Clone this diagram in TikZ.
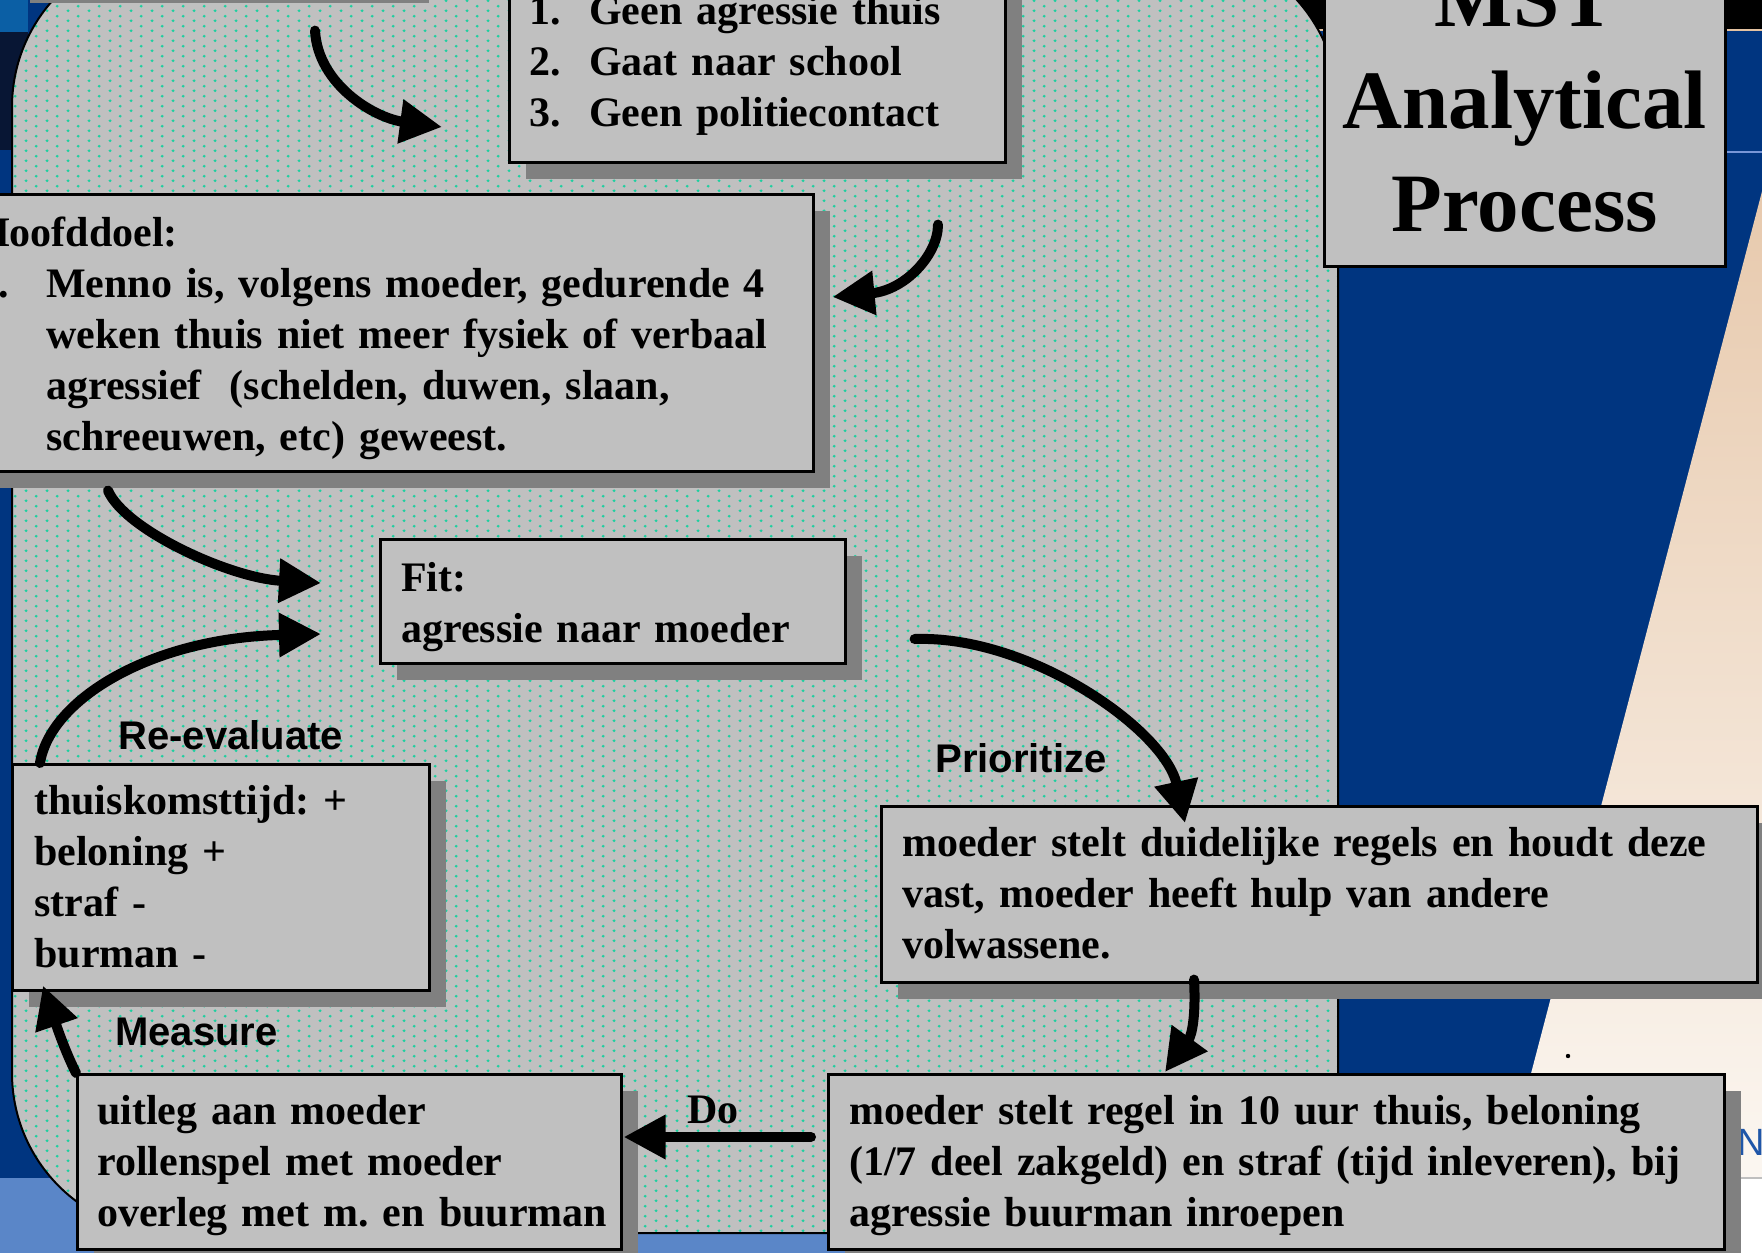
\documentclass[tikz,border=0pt]{standalone}
\usepackage{fontspec}
\setmainfont{Liberation Serif}
\newfontfamily\mstarial{Liberation Sans}
\usetikzlibrary{arrows.meta,shadows,patterns}
\frenchspacing

\definecolor{boxgray}{HTML}{C0C0C0}
\definecolor{shadowgray}{HTML}{808080}
\definecolor{slideblue}{HTML}{003580}
\definecolor{lightband}{HTML}{5A86C8}
\definecolor{dotteal}{HTML}{1ECFA0}
\definecolor{peachtop}{HTML}{E4C2A2}
\definecolor{peachmid}{HTML}{ECD2B8}
\definecolor{peachbot}{HTML}{FDFAF6}
\definecolor{letterblue}{HTML}{1F56A8}
\definecolor{photoblue}{HTML}{0B5FA5}
\definecolor{photodark}{HTML}{081634}
\definecolor{thinblue}{HTML}{7896D7}

\pgfdeclarepatternformonly{mstdots}{\pgfqpoint{0pt}{0pt}}{\pgfqpoint{10.3pt}{5pt}}{\pgfqpoint{10.3pt}{5pt}}{%
  \pgfpathcircle{\pgfqpoint{2.575pt}{1.25pt}}{0.8pt}%
  \pgfpathcircle{\pgfqpoint{7.725pt}{3.75pt}}{0.8pt}%
  \pgfusepath{fill}}

\newcommand\mstboxfont{\fontsize{21pt}{25.5pt}\selectfont\bfseries}
\newcommand\mstlabfont{\mstarial\fontsize{20pt}{24pt}\selectfont\bfseries}
\newcommand\msttitlefont{\fontsize{41.5pt}{51.25pt}\selectfont\bfseries}

\tikzset{
  mstbox/.style={draw=black, line width=1.3pt, fill=boxgray, anchor=north west,
    inner ysep=0pt, align=left, font=\mstboxfont,
    drop shadow={shadow xshift=8.5pt, shadow yshift=-8.5pt, fill=shadowgray, opacity=1}},
  steplabel/.style={anchor=base west, inner sep=0pt, font=\mstlabfont},
  flow/.style={line width=5pt, line cap=round, -{Triangle[length=21pt,width=21pt]}},
}

\begin{document}
\begin{tikzpicture}[x=0.5pt, y=-0.5pt]
\useasboundingbox (0,0) rectangle (1762,1253);
\clip (0,0) rectangle (1762,1253);

% slide background
\fill[slideblue] (0,0) rectangle (1762,1253);
\fill[photoblue] (0,0) rectangle (28,32);
\fill[photodark] (0,32) rectangle (28,150);
\fill[black] (1250,0) rectangle (1762,29);
\draw[peachtop, line width=1pt] (1250,30) -- (1762,30);
\draw[thinblue, line width=0.8pt] (1338,152) -- (1762,152);
\shade[top color=peachtop, middle color=peachmid, bottom color=peachbot]
  (1804,31) -- (1484,1253) -- (1762,1253) -- (1762,31) -- cycle;
\fill[white] (1340,1178) rectangle (1762,1253);
\draw[black!25, line width=1pt] (1340,1178) -- (1762,1178);
\fill[lightband] (0,1178) rectangle (1340,1253);
\fill[black] (1568,1056) circle[radius=1.1pt];
\node[font=\mstarial\fontsize{19pt}{22pt}\selectfont, text=letterblue, anchor=base west, inner sep=0pt] (bgletter) at (1737,1155) {N};

% dotted panel
\path[fill=boxgray, rounded corners=80pt] (12,-53) rectangle (1338,1233);
\path[pattern=mstdots, pattern color=dotteal, rounded corners=80pt] (12,-53) rectangle (1338,1233);
\draw[black, line width=1pt, rounded corners=80pt] (12,-53) rectangle (1338,1233);

% boxes
\node[mstbox, minimum width=199.5pt, minimum height=92.5pt] (prevbox) at (12,-200) {};

\node[mstbox, inner xsep=10pt, text width=228pt, text height=31.5pt, text depth=69pt] (goals) at (508,-40)
 {\makebox[30pt][l]{1.}Geen agressie thuis\\
  \makebox[30pt][l]{2.}Gaat naar school\\
  \makebox[30pt][l]{3.}Geen politiecontact};

\node[mstbox, inner xsep=10.5pt, text width=407.5pt, text height=26pt, text depth=112.5pt] (hoofddoel) at (-45,193)
 {Hoofddoel:\\
  \makebox[34.5pt][l]{1.}Menno is, volgens moeder, gedurende 4\\
  \hspace*{34.5pt}weken thuis niet meer fysiek of verbaal\\
  \hspace*{34.5pt}agressief\ \ (schelden, duwen, slaan,\\
  \hspace*{34.5pt}schreeuwen, etc) geweest.};

\node[mstbox, inner xsep=10.5pt, text width=211.5pt, text height=26pt, text depth=36pt] (fit) at (379,538)
 {Fit:\\ agressie naar moeder};

\node[mstbox, inner xsep=11pt, text width=186.5pt, text height=25pt, text depth=88pt] (reeval) at (11,763)
 {thuiskomsttijd: +\\ beloning +\\ straf -\\ burman -};

\node[mstbox, inner xsep=10.5pt, text width=417pt, text height=25pt, text depth=63pt] (duidelijk) at (880,805)
 {\mbox{moeder stelt duidelijke regels en houdt deze}\\ vast, moeder heeft hulp van andere\\ volwassene.};

\node[mstbox, inner xsep=10pt, text width=252pt, text height=25pt, text depth=62.5pt] (uitleg) at (76,1073)
 {uitleg aan moeder\\ rollenspel met moeder\\ \mbox{overleg met m. en buurman}};

\node[mstbox, inner xsep=10.5pt, text width=427pt, text height=25pt, text depth=62.5pt] (regel) at (827,1073)
 {\mbox{moeder stelt regel in 10 uur thuis, beloning}\\ \mbox{(1/7 deel zakgeld) en straf (tijd inleveren), bij}\\ agressie buurman inroepen};

\node[draw=black, line width=1.3pt, fill=boxgray, anchor=north west, inner sep=0pt, align=center,
      text width=200.5pt, text height=32.5pt, text depth=120pt, font=\msttitlefont] (mst) at (1323,-40)
 {MST\\ Analytical\\ Process};

% step labels
\node[steplabel] (lreeval) at (118,749) {Re-evaluate};
\node[steplabel] (lprior) at (935,772) {Prioritize};
\node[steplabel] (lmeasure) at (115,1045) {Measure};
\node[steplabel, font=\mstboxfont] (ldo) at (687,1123) {Do};

% connector end points
\coordinate (a0) at ([shift={(151.5pt,-21.5pt)}]prevbox.south west);
\coordinate (a1) at ([shift={(-33pt,-83.5pt)}]goals.north west);
\coordinate (b0) at ([shift={(215pt,-30.5pt)}]goals.south west);
\coordinate (b1) at ([shift={(9pt,-52pt)}]hoofddoel.north east);
\coordinate (c0) at ([shift={(76.5pt,-9pt)}]hoofddoel.south west);
\coordinate (c1) at ([shift={(-29pt,-22.5pt)}]fit.north west);
\coordinate (d0) at ([xshift=14.5pt]reeval.north west);
\coordinate (d1) at ([shift={(-29pt,-48pt)}]fit.north west);
\coordinate (e0) at ([shift={(34pt,-50.5pt)}]fit.north east);
\coordinate (e1) at ([shift={(152.5pt,-9pt)}]duidelijk.north west);
\coordinate (f0) at ([shift={(157pt,2pt)}]duidelijk.south west);
\coordinate (f1) at ([shift={(169pt,0.5pt)}]regel.north west);
\coordinate (g0) at ([shift={(-8pt,-32pt)}]regel.north west);
\coordinate (g1) at ([shift={(0.5pt,-32pt)}]uitleg.north east);
\coordinate (h0) at (uitleg.north west);
\coordinate (h1) at ([shift={(16pt,3pt)}]reeval.south west);

% connectors
\draw[flow] (a0) .. controls (318,85) and (375,118) .. (a1);
\draw[flow] (b0) .. controls (938,255) and (905,290) .. (b1);
\draw[flow] (c0) .. controls (125,530) and (230,578) .. (c1);
\draw[flow] (d0) .. controls (50,700) and (150,638) .. (d1);
\draw[flow] (e0) .. controls (1030,635) and (1165,730) .. (e1);
\draw[flow] (f0) .. controls (1196,1015) and (1192,1035) .. (f1);
\draw[flow] (g0) -- (g1);
\draw[flow] (h0) .. controls (62,1045) and (52,1012) .. (h1);
\end{tikzpicture}
\end{document}
